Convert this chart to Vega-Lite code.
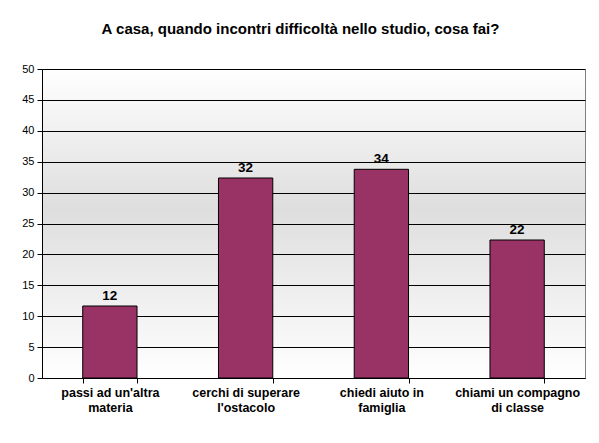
{
  "$schema": "https://vega.github.io/schema/vega-lite/v6.json",
  "description": "Bar chart: A casa, quando incontri difficoltà nello studio, cosa fai?",
  "width": 543,
  "height": 309,
  "autosize": {"type": "none"},
  "padding": {"left": 42, "top": 69, "right": 14, "bottom": 65},
  "background": "white",
  "title": {
    "text": "A casa, quando incontri difficoltà nello studio, cosa fai?",
    "font": "Liberation Sans",
    "fontSize": 15,
    "fontWeight": "bold",
    "color": "#000",
    "anchor": "middle",
    "offset": 26,
    "dx": -13
  },
  "data": {
    "values": [
      {"risposta": "passi ad un'altra|materia", "valore": 11.65},
      {"risposta": "cerchi di superare|l'ostacolo", "valore": 32.36},
      {"risposta": "chiedi aiuto in|famiglia", "valore": 33.77},
      {"risposta": "chiami un compagno|di classe", "valore": 22.33}
    ]
  },
  "encoding": {
    "x": {
      "field": "risposta",
      "type": "nominal",
      "sort": null,
      "title": null,
      "scale": {"paddingInner": 0.6, "paddingOuter": 0.3},
      "axis": {
        "labelAngle": 0,
        "labelExpr": "split(datum.label, '|')",
        "labelFont": "Liberation Sans",
        "labelFontSize": 12.5,
        "labelFontWeight": "bold",
        "labelColor": "#000",
        "labelLineHeight": 15,
        "labelPadding": 3,
        "tickBand": "extent",
        "tickSize": 5,
        "tickColor": "#000",
        "domainColor": "#000",
        "grid": false
      }
    },
    "y": {
      "field": "valore",
      "type": "quantitative",
      "title": null,
      "scale": {"domain": [0, 50]},
      "axis": {
        "values": [0, 5, 10, 15, 20, 25, 30, 35, 40, 45, 50],
        "labelFont": "Liberation Sans",
        "labelFontSize": 11,
        "labelColor": "#000",
        "labelPadding": 3,
        "tickSize": 5,
        "tickColor": "#000",
        "domainColor": "#000",
        "gridColor": "#000",
        "gridOpacity": 1
      }
    }
  },
  "layer": [
    {
      "mark": {"type": "bar", "color": "#993366", "stroke": "#000", "strokeWidth": 1}
    },
    {
      "mark": {
        "type": "text",
        "baseline": "bottom",
        "dy": -3,
        "font": "Liberation Sans",
        "fontSize": 13.5,
        "fontWeight": "bold",
        "color": "#000"
      },
      "encoding": {
        "text": {"field": "valore", "type": "quantitative", "format": ".0f"}
      }
    }
  ],
  "config": {
    "view": {
      "stroke": "#808080",
      "fill": {
        "gradient": "linear",
        "x1": 0,
        "y1": 0,
        "x2": 0,
        "y2": 1,
        "stops": [
          {"offset": 0, "color": "#ffffff"},
          {"offset": 0.45, "color": "#dedede"},
          {"offset": 1, "color": "#ffffff"}
        ]
      }
    }
  }
}
